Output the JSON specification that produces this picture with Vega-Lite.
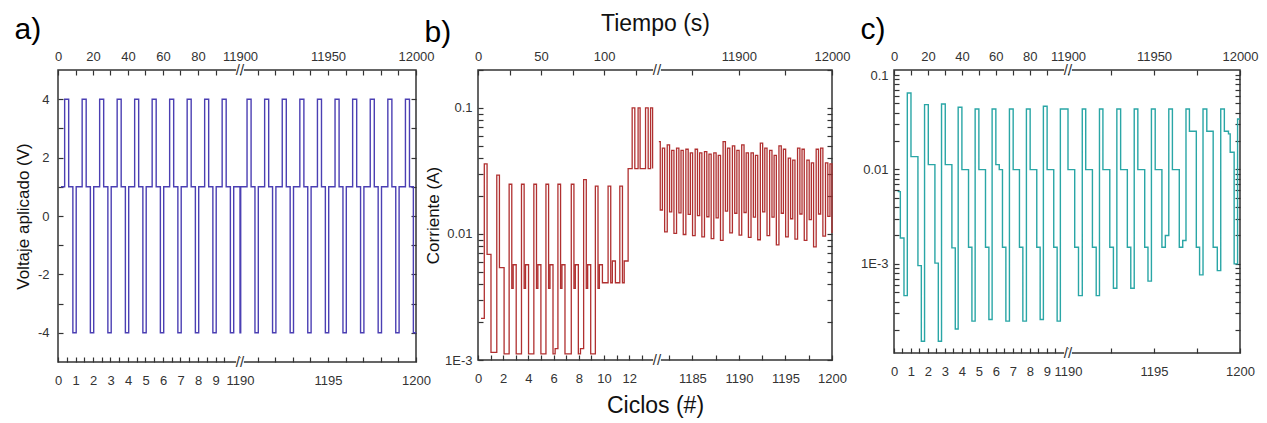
{
  "$schema": "https://vega.github.io/schema/vega-lite/v6.json",
  "padding": {"left": 13, "top": 11, "right": 5, "bottom": 5},
  "bounds": "flush",
  "spacing": 62,
  "config": {
    "view": {"stroke": "#333", "strokeWidth": 1.5},
    "font": "Liberation Sans",
    "axis": {"grid": false, "domain": false, "labelFont": "Liberation Sans", "labelFontSize": 13, "labelColor": "#333", "tickColor": "#333", "tickWidth": 1.2, "tickSize": -5, "titleFont": "Liberation Sans", "titleFontWeight": "normal", "titleColor": "#111", "labelFlush": false, "labelOverlap": false, "labelBound": false},
    "title": {"font": "Liberation Sans", "fontSize": 30, "fontWeight": "normal", "anchor": "start", "frame": "bounds", "color": "#000"}
  },
  "hconcat": [
    {
      "width": 358, "height": 292,
      "title": {"text": "a)", "offset": 5},
      "data": {"values": [
        {"c":0.17,"v":1},
        {"c":0.38,"v":4},{"c":0.61,"v":1},{"c":0.85,"v":-4},{"c":1.04,"v":1},
        {"c":1.38,"v":4},{"c":1.61,"v":1},{"c":1.85,"v":-4},{"c":2.04,"v":1},
        {"c":2.38,"v":4},{"c":2.61,"v":1},{"c":2.85,"v":-4},{"c":3.04,"v":1},
        {"c":3.38,"v":4},{"c":3.61,"v":1},{"c":3.85,"v":-4},{"c":4.04,"v":1},
        {"c":4.38,"v":4},{"c":4.61,"v":1},{"c":4.85,"v":-4},{"c":5.04,"v":1},
        {"c":5.38,"v":4},{"c":5.61,"v":1},{"c":5.85,"v":-4},{"c":6.04,"v":1},
        {"c":6.38,"v":4},{"c":6.61,"v":1},{"c":6.85,"v":-4},{"c":7.04,"v":1},
        {"c":7.38,"v":4},{"c":7.61,"v":1},{"c":7.85,"v":-4},{"c":8.04,"v":1},
        {"c":8.38,"v":4},{"c":8.61,"v":1},{"c":8.85,"v":-4},{"c":9.04,"v":1},
        {"c":9.38,"v":4},{"c":9.61,"v":1},{"c":9.85,"v":-4},{"c":10.04,"v":1},
        {"c":10.4,"v":1},
        {"c":1190,"v":-4},{"c":1190.04,"v":1},
        {"c":1190.4,"v":4},{"c":1190.63,"v":1},{"c":1190.85,"v":-4},{"c":1191.04,"v":1},
        {"c":1191.4,"v":4},{"c":1191.63,"v":1},{"c":1191.85,"v":-4},{"c":1192.04,"v":1},
        {"c":1192.4,"v":4},{"c":1192.63,"v":1},{"c":1192.85,"v":-4},{"c":1193.04,"v":1},
        {"c":1193.4,"v":4},{"c":1193.63,"v":1},{"c":1193.85,"v":-4},{"c":1194.04,"v":1},
        {"c":1194.4,"v":4},{"c":1194.63,"v":1},{"c":1194.85,"v":-4},{"c":1195.04,"v":1},
        {"c":1195.4,"v":4},{"c":1195.63,"v":1},{"c":1195.85,"v":-4},{"c":1196.04,"v":1},
        {"c":1196.4,"v":4},{"c":1196.63,"v":1},{"c":1196.85,"v":-4},{"c":1197.04,"v":1},
        {"c":1197.4,"v":4},{"c":1197.63,"v":1},{"c":1197.85,"v":-4},{"c":1198.04,"v":1},
        {"c":1198.4,"v":4},{"c":1198.63,"v":1},{"c":1198.85,"v":-4},{"c":1199.04,"v":1},
        {"c":1199.4,"v":4},{"c":1199.63,"v":1},{"c":1199.85,"v":-4},{"c":1200,"v":-4}
      ]},
      "layer": [
        {
          "mark": {"type": "line", "interpolate": "step-after", "color": "#4b3fb3", "strokeWidth": 1.4},
          "encoding": {
            "x": {"field": "c", "type": "quantitative", "scale": {"domain": [0, 10.4, 1190, 1200], "range": [0, 182, 182, 358], "nice": false, "zero": false},
                  "axis": {"orient": "bottom", "values": [0,0.5,1,1.5,2,2.5,3,3.5,4,4.5,5,5.5,6,6.5,7,7.5,8,8.5,9,9.5,1190,1191,1192,1193,1194,1195,1196,1197,1198,1199,1200], "labelExpr": "(datum.value < 100 ? datum.value % 1 === 0 : datum.value % 5 === 0) ? '' + datum.value : ''", "labelPadding": 17, "title": null}},
            "y": {"field": "v", "type": "quantitative", "scale": {"domain": [-5, 5], "nice": false, "zero": false},
                  "axis": {"orient": "left", "values": [-4,-3,-2,-1,0,1,2,3,4], "labelExpr": "datum.value % 2 === 0 ? '' + datum.value : ''", "labelPadding": 14, "title": "Voltaje aplicado (V)", "titleFontSize": 17, "titlePadding": 5}}
          }
        },
        {
          "data": {"values": [{"c": 5, "v": 0}]},
          "mark": {"type": "point", "opacity": 0},
          "encoding": {
            "x": {"field": "c", "type": "quantitative", "axis": {"orient": "top", "values": [0,1,2,3,4,5,6,7,8,9,1190,1191,1192,1193,1194,1195,1196,1197,1198,1199,1200], "labelExpr": "(datum.value < 100 ? datum.value % 2 === 0 : datum.value % 5 === 0) ? '' + round(datum.value * 10) : ''", "labelPadding": 12, "title": null}},
            "y": {"field": "v", "type": "quantitative", "axis": {"orient": "right", "values": [-4,-3,-2,-1,0,1,2,3,4], "labels": false, "title": null}}
          }
        },
        {
          "data": {"values": [{"c": 1190, "v": 5}, {"c": 1190, "v": -5}]},
          "mark": {"type": "point", "shape": "square", "filled": true, "color": "white", "opacity": 1, "size": 60},
          "encoding": {
            "x": {"field": "c", "type": "quantitative", "axis": null},
            "y": {"field": "v", "type": "quantitative", "axis": null}
          }
        },
        {
          "data": {"values": [{"c": 1190, "v": 5}, {"c": 1190, "v": -5}]},
          "mark": {"type": "text", "text": "//", "fontSize": 15, "color": "#333", "align": "center", "baseline": "middle"},
          "encoding": {
            "x": {"field": "c", "type": "quantitative", "axis": null},
            "y": {"field": "v", "type": "quantitative", "axis": null}
          }
        }
      ],
      "resolve": {"axis": {"x": "independent", "y": "independent"}}
    },
    {
      "width": 354, "height": 290,
      "title": {"text": "b)", "dy": 40},
      "data": {"values": [
        {"c":0.24,"i":0.00214,"s":0},
        {"c":0.50,"i":0.036,"s":0},{"c":0.72,"i":0.0069,"s":0},{"c":1.03,"i":0.00115,"s":0},
        {"c":1.49,"i":0.0293,"s":0},{"c":1.70,"i":0.0054,"s":0},{"c":2.07,"i":0.00112,"s":0},
        {"c":2.47,"i":0.0248,"s":0},{"c":2.68,"i":0.0037,"s":0},{"c":2.79,"i":0.0057,"s":0},{"c":3.03,"i":0.00112,"s":0},
        {"c":3.45,"i":0.0248,"s":0},{"c":3.66,"i":0.0037,"s":0},{"c":3.77,"i":0.0057,"s":0},{"c":4.01,"i":0.00112,"s":0},
        {"c":4.43,"i":0.0248,"s":0},{"c":4.64,"i":0.0037,"s":0},{"c":4.75,"i":0.0057,"s":0},{"c":4.99,"i":0.00112,"s":0},
        {"c":5.39,"i":0.0248,"s":0},{"c":5.60,"i":0.0037,"s":0},{"c":5.71,"i":0.0057,"s":0},{"c":5.95,"i":0.00112,"s":0},{"c":6.12,"i":0.00123,"s":0},
        {"c":6.34,"i":0.0248,"s":0},{"c":6.55,"i":0.0037,"s":0},{"c":6.66,"i":0.0057,"s":0},{"c":6.90,"i":0.00112,"s":0},
        {"c":7.40,"i":0.0248,"s":0},{"c":7.61,"i":0.0037,"s":0},{"c":7.72,"i":0.0057,"s":0},{"c":7.96,"i":0.00112,"s":0},{"c":8.13,"i":0.00123,"s":0},
        {"c":8.38,"i":0.027,"s":0},{"c":8.59,"i":0.0037,"s":0},{"c":8.70,"i":0.0057,"s":0},{"c":8.94,"i":0.00112,"s":0},
        {"c":9.31,"i":0.024,"s":0},{"c":9.52,"i":0.0037,"s":0},{"c":9.63,"i":0.0057,"s":0},{"c":9.87,"i":0.0041,"s":0},
        {"c":10.32,"i":0.024,"s":0},{"c":10.53,"i":0.0041,"s":0},{"c":10.66,"i":0.0061,"s":0},{"c":10.90,"i":0.0041,"s":0},
        {"c":11.25,"i":0.024,"s":0},{"c":11.46,"i":0.0041,"s":0},{"c":11.60,"i":0.0061,"s":0},{"c":11.91,"i":0.033,"s":0},
        {"c":12.23,"i":0.1,"s":0},{"c":12.44,"i":0.033,"s":0},{"c":12.70,"i":0.1,"s":0},{"c":12.86,"i":0.033,"s":0},
        {"c":13.29,"i":0.1,"s":0},{"c":13.50,"i":0.033,"s":0},{"c":13.69,"i":0.1,"s":0},{"c":13.85,"i":0.033,"s":0},
        {"c":1181.4,"i":0.054,"s":1},{"c":1181.55,"i":0.0155,"s":1},{"c":1181.78,"i":0.048,"s":1},{"c":1182.02,"i":0.0104,"s":1},
        {"c":1182.3,"i":0.051,"s":1},{"c":1182.55,"i":0.0150,"s":1},{"c":1182.78,"i":0.046,"s":1},{"c":1183.02,"i":0.0101,"s":1},
        {"c":1183.3,"i":0.048,"s":1},{"c":1183.55,"i":0.0147,"s":1},{"c":1183.78,"i":0.046,"s":1},{"c":1184.02,"i":0.0099,"s":1},
        {"c":1184.3,"i":0.047,"s":1},{"c":1184.55,"i":0.0143,"s":1},{"c":1184.78,"i":0.044,"s":1},{"c":1185.02,"i":0.0097,"s":1},
        {"c":1185.3,"i":0.047,"s":1},{"c":1185.55,"i":0.0140,"s":1},{"c":1185.78,"i":0.044,"s":1},{"c":1186.02,"i":0.0095,"s":1},
        {"c":1186.3,"i":0.045,"s":1},{"c":1186.55,"i":0.0137,"s":1},{"c":1186.78,"i":0.043,"s":1},{"c":1187.02,"i":0.0092,"s":1},
        {"c":1187.3,"i":0.044,"s":1},{"c":1187.55,"i":0.0134,"s":1},{"c":1187.78,"i":0.042,"s":1},{"c":1188.02,"i":0.0089,"s":1},
        {"c":1188.3,"i":0.054,"s":1},{"c":1188.55,"i":0.0152,"s":1},{"c":1188.78,"i":0.048,"s":1},{"c":1189.02,"i":0.0102,"s":1},
        {"c":1189.3,"i":0.050,"s":1},{"c":1189.55,"i":0.0146,"s":1},{"c":1189.78,"i":0.046,"s":1},{"c":1190.02,"i":0.0098,"s":1},
        {"c":1190.3,"i":0.051,"s":1},{"c":1190.55,"i":0.0148,"s":1},{"c":1190.78,"i":0.044,"s":1},{"c":1191.02,"i":0.0094,"s":1},
        {"c":1191.3,"i":0.044,"s":1},{"c":1191.55,"i":0.0136,"s":1},{"c":1191.78,"i":0.042,"s":1},{"c":1192.02,"i":0.0090,"s":1},
        {"c":1192.3,"i":0.0525,"s":1},{"c":1192.55,"i":0.0150,"s":1},{"c":1192.78,"i":0.048,"s":1},{"c":1193.02,"i":0.0097,"s":1},
        {"c":1193.3,"i":0.046,"s":1},{"c":1193.55,"i":0.0136,"s":1},{"c":1193.78,"i":0.042,"s":1},{"c":1194.02,"i":0.0082,"s":1},
        {"c":1194.3,"i":0.050,"s":1},{"c":1194.55,"i":0.0146,"s":1},{"c":1194.78,"i":0.047,"s":1},{"c":1195.02,"i":0.0095,"s":1},
        {"c":1195.3,"i":0.040,"s":1},{"c":1195.55,"i":0.0132,"s":1},{"c":1195.78,"i":0.0386,"s":1},{"c":1196.02,"i":0.0091,"s":1},
        {"c":1196.3,"i":0.048,"s":1},{"c":1196.55,"i":0.0144,"s":1},{"c":1196.78,"i":0.047,"s":1},{"c":1197.02,"i":0.0089,"s":1},
        {"c":1197.3,"i":0.0386,"s":1},{"c":1197.55,"i":0.0130,"s":1},{"c":1197.78,"i":0.0367,"s":1},{"c":1198.02,"i":0.0079,"s":1},
        {"c":1198.3,"i":0.047,"s":1},{"c":1198.55,"i":0.0144,"s":1},{"c":1198.78,"i":0.048,"s":1},{"c":1199.02,"i":0.0096,"s":1},
        {"c":1199.3,"i":0.0367,"s":1},{"c":1199.55,"i":0.0138,"s":1},{"c":1199.78,"i":0.036,"s":1},{"c":1200,"i":0.0102,"s":1}
      ]},
      "layer": [
        {
          "mark": {"type": "line", "interpolate": "step-after", "color": "#b03030", "strokeWidth": 1.3},
          "encoding": {
            "x": {"field": "c", "type": "quantitative", "scale": {"domain": [0, 14.2, 1181.2, 1200], "range": [0, 179, 179, 354], "nice": false, "zero": false},
                  "axis": {"orient": "bottom", "values": [0,1,2,3,4,5,6,7,8,9,10,11,12,13,1182.5,1185,1187.5,1190,1192.5,1195,1197.5,1200], "labelExpr": "(datum.value < 100 ? datum.value % 2 === 0 : datum.value % 5 === 0) ? '' + datum.value : ''", "labelPadding": 17, "title": "Ciclos (#)", "titleFontSize": 23, "titlePadding": 9}},
            "y": {"field": "i", "type": "quantitative", "scale": {"type": "log", "domain": [0.001, 0.2], "nice": false},
                  "axis": {"orient": "left", "values": [0.001,0.002,0.003,0.004,0.005,0.006,0.007,0.008,0.009,0.01,0.02,0.03,0.04,0.05,0.06,0.07,0.08,0.09,0.1,0.2], "labelExpr": "datum.value == 0.1 ? '0.1' : datum.value == 0.01 ? '0.01' : datum.value == 0.001 ? '1E-3' : ''", "labelPadding": 11, "title": "Corriente (A)", "titleFontSize": 17, "titlePadding": 2}},
            "detail": {"field": "s", "type": "nominal"}
          }
        },
        {
          "data": {"values": [{"c": 5, "i": 0.01}]},
          "mark": {"type": "point", "opacity": 0},
          "encoding": {
            "x": {"field": "c", "type": "quantitative", "axis": {"orient": "top", "values": [0,2.5,5,7.5,10,12.5,1185,1190,1195,1200], "labelExpr": "(datum.value < 100 ? datum.value % 5 === 0 : datum.value % 10 === 0) ? '' + round(datum.value * 10) : ''", "labelPadding": 12, "title": "Tiempo (s)", "titleFontSize": 23, "titlePadding": 15}},
            "y": {"field": "i", "type": "quantitative", "axis": {"orient": "right", "values": [0.001,0.002,0.003,0.004,0.005,0.006,0.007,0.008,0.009,0.01,0.02,0.03,0.04,0.05,0.06,0.07,0.08,0.09,0.1,0.2], "labels": false, "title": null}}
          }
        },
        {
          "data": {"values": [{"c": 1181.2, "i": 0.2}, {"c": 1181.2, "i": 0.001}]},
          "mark": {"type": "point", "shape": "square", "filled": true, "color": "white", "opacity": 1, "size": 60},
          "encoding": {
            "x": {"field": "c", "type": "quantitative", "axis": null},
            "y": {"field": "i", "type": "quantitative", "axis": null}
          }
        },
        {
          "data": {"values": [{"c": 1181.2, "i": 0.2}, {"c": 1181.2, "i": 0.001}]},
          "mark": {"type": "text", "text": "//", "fontSize": 15, "color": "#333", "align": "center", "baseline": "middle"},
          "encoding": {
            "x": {"field": "c", "type": "quantitative", "axis": null},
            "y": {"field": "i", "type": "quantitative", "axis": null}
          }
        }
      ],
      "resolve": {"axis": {"x": "independent", "y": "independent"}}
    },
    {
      "width": 346, "height": 283,
      "title": {"text": "c)", "offset": 5},
      "data": {"values": [
        {"c":0.216,"i":0.00582},{"c":0.373,"i":0.00188},{"c":0.588,"i":0.000462},{"c":0.784,"i":0.0645},
        {"c":1.0,"i":0.01368},{"c":1.41,"i":0.00096},{"c":1.61,"i":0.000152},{"c":1.80,"i":0.0486},
        {"c":2.02,"i":0.01125},{"c":2.41,"i":0.00102},{"c":2.61,"i":0.000152},{"c":2.80,"i":0.0493},
        {"c":3.02,"i":0.01125},{"c":3.41,"i":0.00148},{"c":3.61,"i":0.000205},{"c":3.78,"i":0.0455},
        {"c":4.0,"i":0.00996},{"c":4.39,"i":0.0015},{"c":4.59,"i":0.000248},{"c":4.78,"i":0.0437},
        {"c":5.0,"i":0.00996},{"c":5.39,"i":0.0015},{"c":5.59,"i":0.000258},{"c":5.78,"i":0.0437},
        {"c":6.0,"i":0.01125},{"c":6.2,"i":0.00996},{"c":6.39,"i":0.0015},{"c":6.59,"i":0.000248},{"c":6.8,"i":0.0437},
        {"c":7.02,"i":0.00996},{"c":7.39,"i":0.0015},{"c":7.59,"i":0.000248},{"c":7.8,"i":0.0437},
        {"c":8.02,"i":0.00996},{"c":8.41,"i":0.0015},{"c":8.61,"i":0.000258},{"c":8.8,"i":0.0467},
        {"c":9.02,"i":0.00996},{"c":9.41,"i":0.0015},{"c":9.61,"i":0.000248},{"c":9.8,"i":0.0437},
        {"c":1190.0,"i":0.00996},{"c":1190.39,"i":0.0015},{"c":1190.61,"i":0.000462},{"c":1190.83,"i":0.0437},
        {"c":1191.03,"i":0.00996},{"c":1191.42,"i":0.0015},{"c":1191.64,"i":0.000462},{"c":1191.83,"i":0.0437},
        {"c":1192.03,"i":0.00996},{"c":1192.43,"i":0.0015},{"c":1192.64,"i":0.000553},{"c":1192.84,"i":0.0437},
        {"c":1193.06,"i":0.00996},{"c":1193.45,"i":0.0015},{"c":1193.65,"i":0.000553},{"c":1193.85,"i":0.0437},
        {"c":1194.06,"i":0.00996},{"c":1194.46,"i":0.0015},{"c":1194.65,"i":0.000657},{"c":1194.85,"i":0.0437},
        {"c":1195.07,"i":0.00996},{"c":1195.46,"i":0.0015},{"c":1195.66,"i":0.0020},{"c":1195.86,"i":0.0437},
        {"c":1196.07,"i":0.00996},{"c":1196.47,"i":0.0015},{"c":1196.67,"i":0.00177},{"c":1196.86,"i":0.0437},
        {"c":1197.06,"i":0.0254},{"c":1197.46,"i":0.0015},{"c":1197.65,"i":0.000766},{"c":1197.85,"i":0.0437},
        {"c":1198.07,"i":0.0254},{"c":1198.44,"i":0.0015},{"c":1198.68,"i":0.00085},{"c":1198.88,"i":0.0437},
        {"c":1199.09,"i":0.0254},{"c":1199.33,"i":0.0238},{"c":1199.43,"i":0.0152},{"c":1199.66,"i":0.0010},
        {"c":1199.86,"i":0.0342},{"c":1200,"i":0.0342}
      ]},
      "layer": [
        {
          "mark": {"type": "line", "interpolate": "step-after", "color": "#2aa6a6", "strokeWidth": 1.4},
          "encoding": {
            "x": {"field": "c", "type": "quantitative", "scale": {"domain": [0, 10.25, 1190, 1200], "range": [0, 174, 174, 346], "nice": false, "zero": false},
                  "axis": {"orient": "bottom", "values": [0,0.5,1,1.5,2,2.5,3,3.5,4,4.5,5,5.5,6,6.5,7,7.5,8,8.5,9,9.5,1190,1192.5,1195,1197.5,1200], "labelExpr": "(datum.value < 100 ? datum.value % 1 === 0 : datum.value % 5 === 0) ? '' + datum.value : ''", "labelPadding": 17, "title": null}},
            "y": {"field": "i", "type": "quantitative", "scale": {"type": "log", "domain": [0.000114, 0.113], "nice": false},
                  "axis": {"orient": "left", "values": [0.0002,0.0003,0.0004,0.0005,0.0006,0.0007,0.0008,0.0009,0.001,0.002,0.003,0.004,0.005,0.006,0.007,0.008,0.009,0.01,0.02,0.03,0.04,0.05,0.06,0.07,0.08,0.09,0.1], "labelExpr": "datum.value == 0.1 ? '0.1' : datum.value == 0.01 ? '0.01' : datum.value == 0.001 ? '1E-3' : ''", "labelPadding": 11, "title": null}}
          }
        },
        {
          "data": {"values": [{"c": 5, "i": 0.01}]},
          "mark": {"type": "point", "opacity": 0},
          "encoding": {
            "x": {"field": "c", "type": "quantitative", "axis": {"orient": "top", "values": [0,1,2,3,4,5,6,7,8,9,1190,1192.5,1195,1197.5,1200], "labelExpr": "(datum.value < 100 ? datum.value % 2 === 0 : datum.value % 5 === 0) ? '' + round(datum.value * 10) : ''", "labelPadding": 12, "title": null}},
            "y": {"field": "i", "type": "quantitative", "axis": {"orient": "right", "values": [0.0002,0.0003,0.0004,0.0005,0.0006,0.0007,0.0008,0.0009,0.001,0.002,0.003,0.004,0.005,0.006,0.007,0.008,0.009,0.01,0.02,0.03,0.04,0.05,0.06,0.07,0.08,0.09,0.1], "labels": false, "title": null}}
          }
        },
        {
          "data": {"values": [{"c": 1190, "i": 0.113}, {"c": 1190, "i": 0.000114}]},
          "mark": {"type": "point", "shape": "square", "filled": true, "color": "white", "opacity": 1, "size": 60},
          "encoding": {
            "x": {"field": "c", "type": "quantitative", "axis": null},
            "y": {"field": "i", "type": "quantitative", "axis": null}
          }
        },
        {
          "data": {"values": [{"c": 1190, "i": 0.113}, {"c": 1190, "i": 0.000114}]},
          "mark": {"type": "text", "text": "//", "fontSize": 15, "color": "#333", "align": "center", "baseline": "middle"},
          "encoding": {
            "x": {"field": "c", "type": "quantitative", "axis": null},
            "y": {"field": "i", "type": "quantitative", "axis": null}
          }
        }
      ],
      "resolve": {"axis": {"x": "independent", "y": "independent"}}
    }
  ]
}
